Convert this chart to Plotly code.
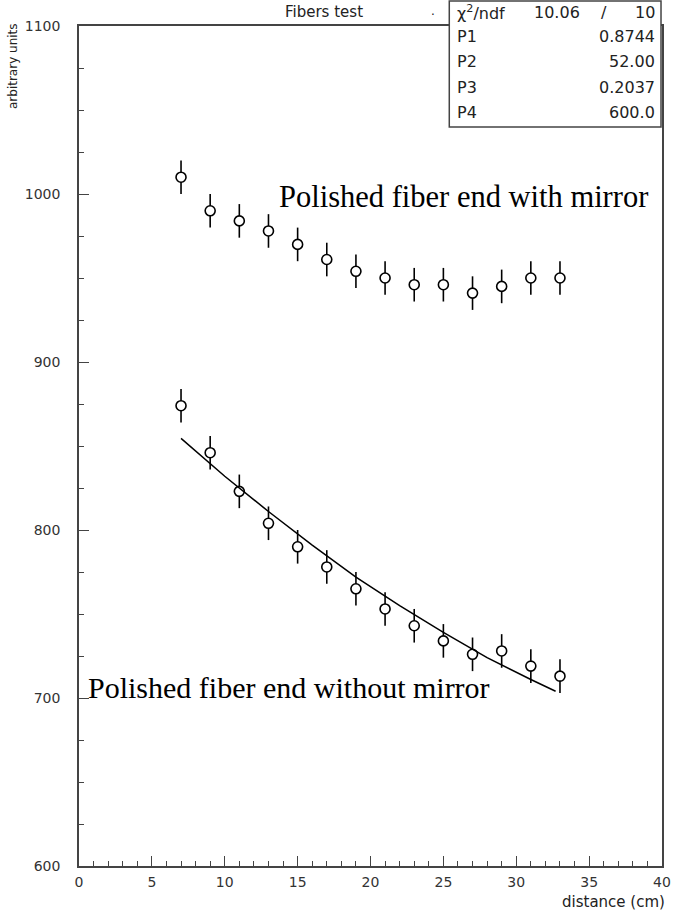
import plotly.graph_objects as go

# ---- data ----
distance = [7, 9, 11, 13, 15, 17, 19, 21, 23, 25, 27, 29, 31, 33]
with_mirror = [1010, 990, 984, 978, 970, 961, 954, 950, 946, 946, 941, 945, 950, 950]
without_mirror = [874, 846, 823, 804, 790, 778, 765, 753, 743, 734, 726, 728, 719, 713]
err_with = [10] * 14
err_without = [10] * 14

fit_x = [7, 10, 13, 16, 19, 22, 25, 28, 31, 32.7]
fit_y = [854.5, 832, 811, 791, 772, 755, 739, 724, 711, 704]

stats_labels = ["χ<sup>2</sup>/ndf", "P1", "P2", "P3", "P4"]
stats_values = ["10.06", "0.8744", "52.00", "0.2037", "600.0"]

x_ticks = [0, 5, 10, 15, 20, 25, 30, 35, 40]
y_ticks = [600, 700, 800, 900, 1000, 1100]

W, H = 678, 912
L, R, T, B = 79, 7, 26, 46
pw, ph = W - L - R, H - T - B


def px(xp):
    return (xp - L) / pw


def py(yp):
    return (H - B - yp) / ph


axis_font = dict(family="DejaVu Sans", size=14, color="#333")
frame_col = "#444"
txt_col = "#222"

fig = go.Figure()

marker = dict(symbol="circle", size=10, color="white", line=dict(color="black", width=1.6))
for yv, ev in [(with_mirror, err_with), (without_mirror, err_without)]:
    fig.add_trace(go.Scatter(
        x=distance, y=yv, mode="markers", marker=marker,
        error_y=dict(type="data", array=ev, visible=True, color="black", thickness=1.6, width=0),
        showlegend=False, cliponaxis=False))

fig.add_trace(go.Scatter(x=fit_x, y=fit_y, mode="lines",
                         line=dict(color="black", width=1.5), showlegend=False))

annotations = []
annotations.append(dict(x=13.6, y=998, xref="x", yref="y", xanchor="left", yanchor="middle",
                        text="Polished fiber end with mirror", showarrow=False,
                        font=dict(family="Liberation Serif", size=30.5, color="black")))
annotations.append(dict(x=0.5, y=706, xref="x", yref="y", xanchor="left", yanchor="middle",
                        text="Polished fiber end without mirror", showarrow=False,
                        font=dict(family="Liberation Serif", size=30, color="black")))
# title
annotations.append(dict(x=px(328), y=py(12), xref="paper", yref="paper", xanchor="center",
                        yanchor="middle", text="Fibers test", showarrow=False,
                        font=dict(family="DejaVu Sans", size=15, color=txt_col)))
annotations.append(dict(x=px(438), y=py(11), xref="paper", yref="paper", xanchor="center",
                        yanchor="middle", text=".", showarrow=False,
                        font=dict(family="DejaVu Sans", size=12, color=txt_col)))
# axis titles
annotations.append(dict(x=px(676), y=py(902), xref="paper", yref="paper", xanchor="right",
                        yanchor="middle", text="distance (cm)", showarrow=False,
                        font=dict(family="DejaVu Sans", size=15, color=txt_col)))
annotations.append(dict(x=px(12), y=py(21), xref="paper", yref="paper", xanchor="center",
                        yanchor="top", text="arbitrary units", textangle=-90, showarrow=False,
                        font=dict(family="DejaVu Sans", size=12, color=txt_col)))

# stats box
box_top, box_bot = 1, 127
row_y = [12, 37, 62, 88, 113]
for i, (lab, val) in enumerate(zip(stats_labels, stats_values)):
    yc = row_y[i]
    annotations.append(dict(x=px(461), y=py(yc), xref="paper", yref="paper", xanchor="left",
                            yanchor="middle", text=lab, showarrow=False,
                            font=dict(family="DejaVu Sans", size=16, color=txt_col)))
    if i == 0:
        annotations.append(dict(x=px(590), y=py(yc), xref="paper", yref="paper", xanchor="right",
                                yanchor="middle", text=val, showarrow=False,
                                font=dict(family="DejaVu Sans", size=16, color=txt_col)))
        annotations.append(dict(x=px(612), y=py(yc), xref="paper", yref="paper", xanchor="center",
                                yanchor="middle", text="/", showarrow=False,
                                font=dict(family="DejaVu Sans", size=16, color=txt_col)))
        annotations.append(dict(x=px(666), y=py(yc), xref="paper", yref="paper", xanchor="right",
                                yanchor="middle", text="10", showarrow=False,
                                font=dict(family="DejaVu Sans", size=16, color=txt_col)))
    else:
        annotations.append(dict(x=px(666), y=py(yc), xref="paper", yref="paper", xanchor="right",
                                yanchor="middle", text=val, showarrow=False,
                                font=dict(family="DejaVu Sans", size=16, color=txt_col)))

shapes = [dict(type="rect", xref="paper", yref="paper", x0=px(455), x1=px(670),
               y0=py(box_bot), y1=py(box_top),
               line=dict(color=frame_col, width=1.5), fillcolor="white", layer="above")]

fig.update_layout(
    width=W, height=H, margin=dict(l=L, r=R, t=T, b=B),
    paper_bgcolor="white", plot_bgcolor="white",
    annotations=annotations, shapes=shapes,
    xaxis=dict(range=[0, 40], tickvals=x_ticks, ticks="inside", ticklen=10, tickwidth=1.2,
               tickcolor=frame_col, minor=dict(dtick=1, tick0=0, ticks="inside", ticklen=5,
                                               tickcolor=frame_col, tickwidth=1),
               showgrid=False, zeroline=False, showline=True, mirror=True,
               linecolor=frame_col, linewidth=1.5, tickfont=axis_font, ticklabelstandoff=2),
    yaxis=dict(range=[600, 1100], tickvals=y_ticks, ticks="inside", ticklen=10, tickwidth=1.2,
               tickcolor=frame_col, minor=dict(dtick=25, tick0=600, ticks="inside", ticklen=5,
                                               tickcolor=frame_col, tickwidth=1),
               showgrid=False, zeroline=False, showline=True, mirror=True,
               linecolor=frame_col, linewidth=1.5, tickfont=axis_font, ticklabelstandoff=14),
)

fig.write_html("out.html")
